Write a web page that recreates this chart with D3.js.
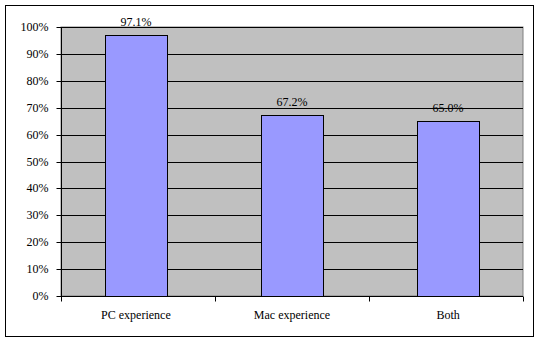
<!DOCTYPE html>
<html>
<head>
<meta charset="utf-8">
<script src="https://cdn.jsdelivr.net/npm/d3@7"></script>
<style>
body{margin:0;background:#fff}
svg{display:block}
svg text{font-family:"Times New Roman","Liberation Serif",Times,serif !important;fill:#000}
</style>
</head>
<body>
<svg id="chart" width="539" height="341"></svg>
<script>
let categories=["PC experience","Mac experience","Both"]
let values=[0.971,0.672,0.65]
let yTicks=[0,0.1,0.2,0.3,0.4,0.5,0.6,0.7,0.8,0.9,1]

let svg=d3.select("#chart")
let pLeft=61,pRight=523,pTop=27,pBottom=296

svg.append("rect")
.attr("x",5.5).attr("y",5.5).attr("width",528).attr("height",331)
.attr("fill","#fff").attr("stroke","#000")

let x=d3.scaleBand().domain(categories).range([pLeft,pRight]).paddingInner(0.6).paddingOuter(0.28)
let y=d3.scaleLinear().domain([0,1]).range([pBottom,pTop])

svg.append("rect")
.attr("x",pLeft).attr("y",pTop).attr("width",pRight-pLeft).attr("height",pBottom-pTop)
.attr("fill","#c0c0c0").attr("stroke","#808080")

svg.selectAll("line.grid")
.data(yTicks.slice(1))
.enter().append("line")
.attr("class","grid")
.attr("x1",pLeft).attr("x2",pRight)
.attr("y1",d=>Math.round(y(d))+0.5).attr("y2",d=>Math.round(y(d))+0.5)
.attr("stroke","#000")

svg.selectAll("rect.bar")
.data(values)
.enter().append("rect")
.attr("class","bar")
.attr("x",(d,i)=>Math.round(x(categories[i]))+0.5)
.attr("width",Math.round(x.bandwidth()))
.attr("y",d=>Math.round(y(d))+0.5)
.attr("height",d=>pBottom-Math.round(y(d)))
.attr("fill","#9999ff").attr("stroke","#000")

svg.selectAll("text.val")
.data(values)
.enter().append("text")
.attr("class","val")
.attr("x",(d,i)=>x(categories[i])+x.bandwidth()/2)
.attr("y",d=>y(d)-9)
.attr("text-anchor","middle")
.attr("font-size",12)
.text(d=>d3.format(".1%")(d))

let yAxis=svg.append("g")
.attr("transform","translate("+(pLeft+0.5)+",0)")
.call(d3.axisLeft(y).tickValues(yTicks).tickFormat(d3.format(".0%")).tickSize(5).tickPadding(8))
yAxis.select(".domain").remove()
yAxis.append("line").attr("y1",pTop).attr("y2",pBottom).attr("stroke","#000")
yAxis.selectAll("text").attr("font-size",12)
yAxis.selectAll(".tick").attr("transform",d=>"translate(0,"+(Math.round(y(d))+0.5)+")")

let xTicks=d3.scaleLinear().domain([0,3]).range([pLeft,pRight])
let xAxis=svg.append("g")
.attr("transform","translate(0,"+(pBottom+0.5)+")")
xAxis.append("line").attr("x1",pLeft).attr("x2",pRight).attr("stroke","#000")
xAxis.selectAll("line.tick")
.data([0,1,2,3])
.enter().append("line")
.attr("class","tick")
.attr("x1",d=>Math.round(xTicks(d))+0.5).attr("x2",d=>Math.round(xTicks(d))+0.5)
.attr("y1",0).attr("y2",5)
.attr("stroke","#000")
xAxis.selectAll("text")
.data(categories)
.enter().append("text")
.attr("x",d=>x(d)+x.bandwidth()/2)
.attr("y",22)
.attr("text-anchor","middle")
.attr("font-size",12)
.text(d=>d)
</script>
</body>
</html>
